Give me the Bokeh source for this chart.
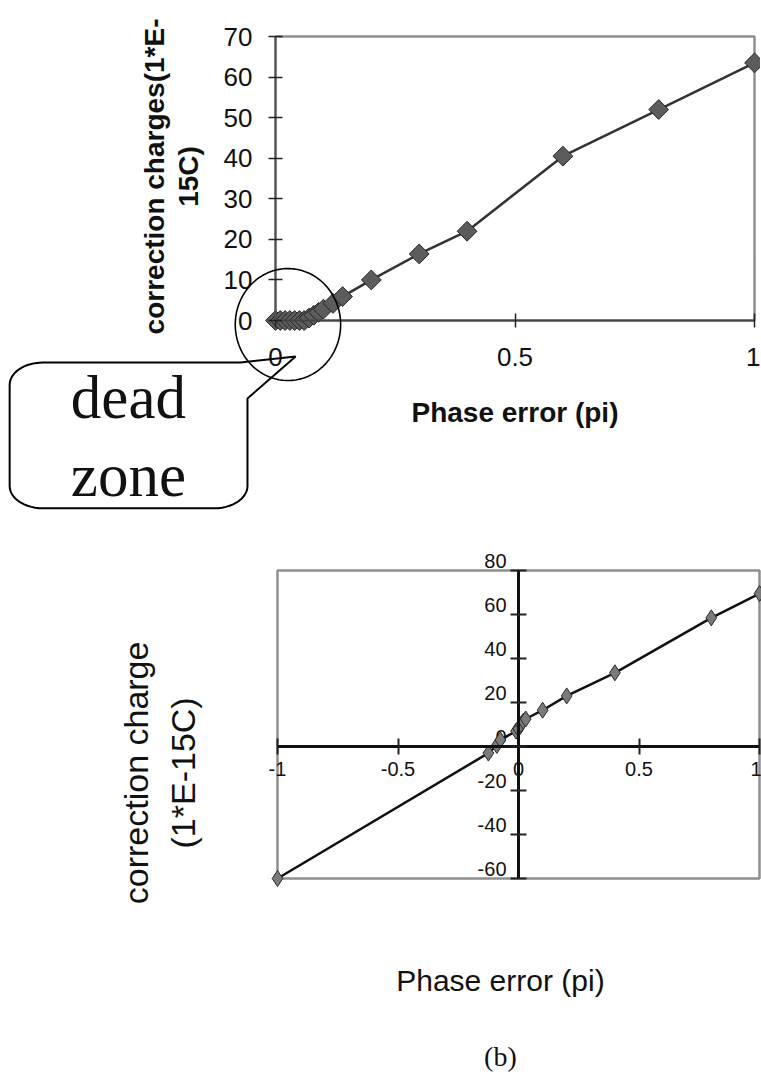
import numpy as np
from bokeh.plotting import figure
from bokeh.models import FixedTicker, BoxAnnotation, PolyAnnotation, Label
from bokeh.layouts import column
from bokeh.core.properties import value
from bokeh.embed import file_html
from bokeh.resources import INLINE

# ---- upper panel: correction charge around the dead zone ----
phase_top = [0, 0.01, 0.02, 0.03, 0.04, 0.05, 0.06, 0.07, 0.08, 0.09, 0.10,
             0.12, 0.14, 0.2, 0.3, 0.4, 0.6, 0.8, 1.0]
charge_top = [0, 0, 0, 0, 0, 0, 0, 0.6, 1.3, 2.0, 2.8,
              4.2, 5.9, 10, 16.4, 22, 40.5, 52, 63.5]
top_xticks = [0, 0.5, 1]
top_xlabels = ["0", "0.5", "1"]
top_yticks = [0, 10, 20, 30, 40, 50, 60, 70]
top_ylabels = ["0", "10", "20", "30", "40", "50", "60", "70"]

# ---- lower panel: full characteristic, negative and positive phase error ----
phase_bot = [-1, -0.125, -0.09, -0.075, -0.01, 0, 0.01, 0.02, 0.03,
             0.1, 0.2, 0.4, 0.8, 1.0]
charge_bot = [-60, -3, 0.5, 3, 7, 8, 10, 11.5, 12.5,
              16.5, 23, 33.5, 58.5, 69.5]
bot_xticks = [-1, -0.5, 0, 0.5, 1]
bot_xlabels = ["-1", "-0.5", "0", "0.5", "1"]
bot_yticks = [-60, -40, -20, 0, 20, 40, 60, 80]
bot_ylabels = ["-60", "-40", "-20", "0", "20", "40", "60", "80"]

SANS = "Liberation Sans"
SERIF = "Liberation Serif"
INK = "#111111"


def style_axis(axis, ticks, labels, bounds, size, tick_len, line_w, color, standoff):
    axis.fixed_location = 0
    axis.bounds = bounds
    axis.ticker = FixedTicker(ticks=ticks)
    axis.major_label_overrides = {t: s for t, s in zip(ticks, labels)}
    axis.minor_tick_line_color = None
    axis.major_tick_in = tick_len
    axis.major_tick_out = tick_len
    axis.major_tick_line_width = 1.5
    axis.major_tick_line_color = "#222222"
    axis.axis_line_color = color
    axis.axis_line_width = line_w
    axis.major_label_text_font = SANS
    axis.major_label_text_font_size = size
    axis.major_label_text_color = INK
    axis.major_label_standoff = standoff


def bare_figure(w, h, xr, yr):
    p = figure(width=w, height=h, output_backend="svg", toolbar_location=None,
               x_range=xr, y_range=yr, min_border=0,
               min_border_left=0, min_border_right=0,
               min_border_top=0, min_border_bottom=0)
    p.outline_line_color = None
    p.grid.visible = False
    p.background_fill_color = "white"
    p.border_fill_color = "white"
    return p


# upper plot box: 479 px per unit of phase, 284 px for 70 units of charge;
# the box sits 275 px from the left and 36 px from the top of a 760x545 canvas
tx, ty = 479.0, 284.0 / 70.0
top = bare_figure(760, 545, (-275 / tx, (760 - 275) / tx), ((320 - 545) / ty, 320 / ty))

top.add_layout(BoxAnnotation(left=0, right=1, bottom=0, top=70, fill_color=None,
                             line_color="#8f8f8f", line_alpha=1, line_width=2.5,
                             level="underlay"))

style_axis(top.yaxis[0], top_yticks, top_ylabels, (0, 70), "26px", 7, 2, "#555555", 16)
style_axis(top.xaxis[0], top_xticks, top_xlabels, (0, 1), "26px", 7, 2, "#444444", 20)
top.xaxis[0].axis_label = "Phase error (pi)"
top.xaxis[0].axis_label_text_font = SANS
top.xaxis[0].axis_label_text_font_style = "bold"
top.xaxis[0].axis_label_text_font_size = "28px"
top.xaxis[0].axis_label_text_color = INK
top.xaxis[0].axis_label_standoff = 28

top.line(phase_top, charge_top, line_color="#333333", line_width=2.5)
top.scatter(phase_top, charge_top, marker="square", size=14, angle=np.pi / 4,
            fill_color="#5c5c5c", line_color="#262626", line_width=1)

for xpos, txt in [(-0.252, "correction charges(1*E-"), (-0.181, "15C)")]:
    top.add_layout(Label(x=xpos, y=35.5, text=txt, angle=90, angle_units="deg",
                         text_font=SANS, text_font_style="bold", text_font_size="28px",
                         text_align="center", text_baseline="middle", text_color=INK))

# ring around the dead zone
theta = np.linspace(0, 2 * np.pi, 160)
ring_cx, ring_cy, ring_rx, ring_ry = 0.026, -1.0, 0.11, 13.8
top.add_layout(PolyAnnotation(xs=list(ring_cx + ring_rx * np.cos(theta)),
                              ys=list(ring_cy + ring_ry * np.sin(theta)),
                              fill_color=None, line_color="black", line_alpha=1,
                              line_width=1.6))


def callout_outline(L, R, T, B, rx, ry, tail_x, tip, tail_y, n=14):
    xs, ys = [], []
    a = np.linspace(np.pi, np.pi / 2, n)
    xs += list(L + rx + rx * np.cos(a)); ys += list(T - ry + ry * np.sin(a))
    xs += [tail_x, tip[0], R]; ys += [T, tip[1], tail_y]
    a = np.linspace(0, -np.pi / 2, n)
    xs += list(R - rx + rx * np.cos(a)); ys += list(B + ry + ry * np.sin(a))
    a = np.linspace(-np.pi / 2, -np.pi, n)
    xs += list(L + rx + rx * np.cos(a)); ys += list(B + ry + ry * np.sin(a))
    return xs, ys


cxs, cys = callout_outline(-0.555, -0.0585, -10.35, -46.3, 0.07, 5.5,
                           -0.073, (0.042, -8.9), -19.2)
top.add_layout(PolyAnnotation(xs=cxs, ys=cys, fill_color=None, line_color="black",
                              line_alpha=1, line_width=2))
for ypos, word in [(-19.0, "dead"), (-38.2, "zone")]:
    top.add_layout(Label(x=-0.307, y=ypos, text=word, text_font=SERIF,
                         text_font_size="61px", text_align="center",
                         text_baseline="alphabetic", text_color=INK))

# lower plot box: 241 px per unit of phase, 2.2 px per unit of charge;
# the box starts 277 px from the left and 25 px below the top of a 761x546 canvas
bx, by = 241.0, 2.2
bot = bare_figure(761, 546, (-1 - 277 / bx, -1 + (761 - 277) / bx),
                  (80 - (546 - 25) / by, 80 + 25 / by))

bot.add_layout(BoxAnnotation(left=-1, right=1, bottom=-60, top=80, fill_color=None,
                             line_color="#8f8f8f", line_alpha=1, line_width=2.5,
                             level="underlay"))
style_axis(bot.yaxis[0], bot_yticks, [""] * len(bot_yticks), (-60, 80), "20px", 8, 3, INK, 4)
style_axis(bot.xaxis[0], bot_xticks, bot_xlabels, (-1, 1), "20px", 8, 3, INK, 7)
bot.yaxis[0].major_tick_line_width = 2
bot.xaxis[0].major_tick_line_width = 2

# charge tick labels sit a little above their tick marks, left of the vertical axis
bot.text(x=[0] * len(bot_yticks), y=bot_yticks, text=bot_ylabels,
         x_offset=-12, y_offset=-10, text_align="right", text_baseline="middle",
         text_font=value(SANS), text_font_size=value("20px"), text_color=INK)

bot.line(phase_bot, charge_bot, line_color=INK, line_width=2.5)
bot.scatter(phase_bot, charge_bot, marker="diamond", size=16,
            fill_color="#7a7a7a", line_color="#2a2a2a", line_width=1)

for xpos, txt in [(-1.589, "correction charge"), (-1.394, "(1*E-15C)")]:
    bot.add_layout(Label(x=xpos, y=-12, text=txt, angle=90, angle_units="deg",
                         text_font=SANS, text_font_size="34px",
                         text_align="center", text_baseline="middle", text_color=INK))
bot.add_layout(Label(x=-0.075, y=-106.4, text="Phase error (pi)", text_font=SANS,
                     text_font_size="30px", text_align="center",
                     text_baseline="middle", text_color=INK))
bot.add_layout(Label(x=-0.075, y=-141, text="(b)", text_font=SERIF,
                     text_font_size="28px", text_align="center",
                     text_baseline="middle", text_color=INK))

page = column(top, bot, spacing=0)
open("out.html", "w").write(file_html(page, INLINE))
